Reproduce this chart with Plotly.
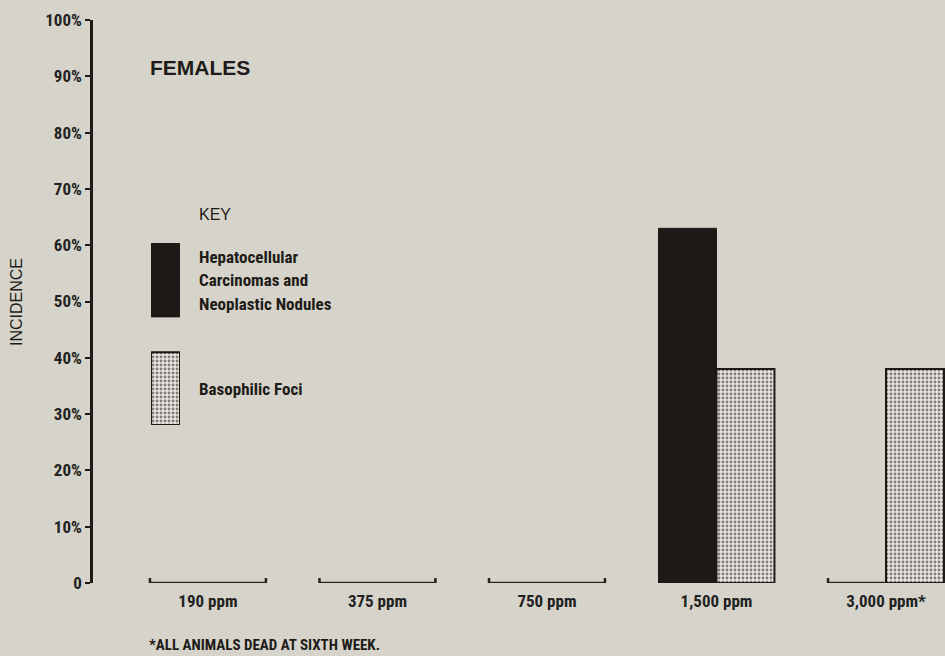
import plotly.graph_objects as go

categories = ["190 ppm", "375 ppm", "750 ppm", "1,500 ppm", "3,000 ppm*"]
hepatocellular = [0, 0, 0, 63, 0]
basophilic = [0, 0, 0, 38, 38]
y_ticks = [0, 10, 20, 30, 40, 50, 60, 70, 80, 90, 100]
y_tick_labels = ["0"] + [f"{v}%" for v in y_ticks[1:]]

BG = "#d6d4ca"
INK = "#1c1917"
DOT_BG = "#e8e6de"
NARROW = "Liberation Sans Narrow, Roboto Condensed, Arial Narrow, Liberation Sans, sans-serif"
WIDE = "Liberation Sans, Arial, sans-serif"

W, H = 945, 656
ML, MR, MT, MB = 93, 0, 20, 73
PW, PH = W - ML - MR, H - MT - MB

x_idx = list(range(len(categories)))
group_w = 0.684
half = group_w / 2

fig = go.Figure()

fig.add_trace(go.Bar(
    x=[i - half / 2 for i in x_idx], y=hepatocellular, width=half,
    marker=dict(color=INK, line=dict(color=INK, width=1)),
    name="Hepatocellular Carcinomas and Neoplastic Nodules", showlegend=False,
))
fig.add_trace(go.Bar(
    x=[i + half / 2 for i in x_idx], y=basophilic, width=half,
    marker=dict(color=DOT_BG, line=dict(color=INK, width=2),
                pattern=dict(shape=".", fgcolor="#111", bgcolor=DOT_BG, size=4, solidity=0.4)),
    name="Basophilic Foci", showlegend=False,
))

# brackets for zero-valued bars along the baseline
tick_h = 0.9
bx, by = [], []
for i in x_idx:
    h, b = hepatocellular[i], basophilic[i]
    if h == 0 and b == 0:
        x0, x1 = i - half, i + half
        bx += [x0, x0, x1, x1, None]; by += [tick_h, 0, 0, tick_h, None]
    else:
        if h == 0:
            x0, x1 = i - half, i
            bx += [x0, x0, x1, None]; by += [tick_h, 0, 0, None]
        if b == 0:
            x0, x1 = i, i + half
            bx += [x0, x1, x1, None]; by += [0, 0, tick_h, None]
fig.add_trace(go.Scatter(x=bx, y=by, mode="lines", line=dict(color="#2a2020", width=2.5),
                         cliponaxis=False, showlegend=False, hoverinfo="skip"))

# legend swatches on a small inset axis
fig.add_trace(go.Bar(x=[0], y=[0.40], base=[0], width=1, xaxis="x2", yaxis="y2",
                     marker=dict(color=DOT_BG, line=dict(color=INK, width=2),
                                 pattern=dict(shape=".", fgcolor="#111", bgcolor=DOT_BG, size=4, solidity=0.4)),
                     showlegend=False, hoverinfo="skip"))
fig.add_trace(go.Bar(x=[0], y=[0.406], base=[0.594], width=1, xaxis="x2", yaxis="y2",
                     marker=dict(color=INK, line=dict(color=INK, width=1)),
                     showlegend=False, hoverinfo="skip"))

fig.update_layout(
    width=W, height=H,
    margin=dict(l=ML, r=MR, t=MT, b=MB, pad=0),
    paper_bgcolor=BG, plot_bgcolor=BG,
    barmode="overlay",
    xaxis=dict(range=[-0.678, 4.348], tickvals=x_idx, ticktext=categories,
               showgrid=False, zeroline=False, showline=False, ticks="",
               tickfont=dict(family=NARROW, size=17, color="#222", weight="bold"), ticklabelstandoff=6),
    yaxis=dict(range=[0, 100], tickvals=y_ticks, ticktext=y_tick_labels,
               showgrid=False, zeroline=False, showline=True, linecolor=INK, linewidth=2.5,
               ticks="outside", ticklen=5, tickwidth=2, tickcolor=INK,
               tickfont=dict(family=NARROW, size=17, color="#222", weight="bold")),
    xaxis2=dict(domain=[(151 - ML) / PW, (180 - ML) / PW], range=[-0.5, 0.5], visible=False, anchor="y2"),
    yaxis2=dict(domain=[(583 - 425) / PH, (583 - 243) / PH], range=[0, 1], visible=False, anchor="x2"),
    showlegend=False,
)


def px(x):
    return (x - ML) / PW


def py(y):
    return (H - MB - y) / PH


annots = [
    dict(text="<b>FEMALES</b>", x=148, y=68, size=21, family=WIDE, weight="normal"),
    dict(text="KEY", x=197, y=214, size=16, family=WIDE, weight="normal"),
    dict(text="Hepatocellular", x=197, y=257, size=17, family=NARROW, weight="bold"),
    dict(text="Carcinomas and", x=197, y=280, size=17, family=NARROW, weight="bold"),
    dict(text="Neoplastic Nodules", x=197, y=304, size=17, family=NARROW, weight="bold"),
    dict(text="Basophilic Foci", x=197, y=389, size=17, family=NARROW, weight="bold"),
    dict(text="*ALL ANIMALS DEAD AT SIXTH WEEK.", x=147, y=645, size=15, family=NARROW, weight="bold"),
]
for a in annots:
    fig.add_annotation(text=a["text"], x=px(a["x"]), y=py(a["y"]),
                       xref="paper", yref="paper", xanchor="left", yanchor="middle",
                       showarrow=False,
                       font=dict(family=a["family"], size=a["size"], color="#1e1b18", weight=a["weight"]))
fig.add_annotation(text="INCIDENCE", x=px(16), y=py(302), xref="paper", yref="paper",
                   xanchor="center", yanchor="middle",
                   textangle=-90, showarrow=False,
                   font=dict(family=WIDE, size=16, color="#1e1b18"))

fig.write_html("out.html", config={"displayModeBar": False},
               post_script="document.body.style.margin='0';document.body.style.background='%s';" % BG)
